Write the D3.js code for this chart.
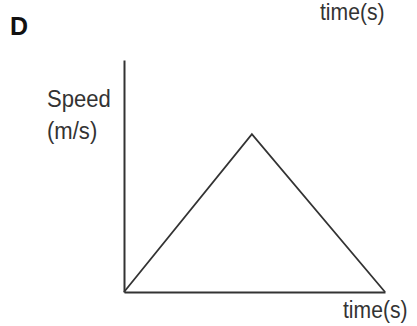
<!DOCTYPE html>
<html><head><meta charset="utf-8">
<script src="https://cdn.jsdelivr.net/npm/d3@7"></script>
<style>body{margin:0;background:#fff}svg{display:block}</style>
</head><body>
<script>
const times = [0, 4.9, 10];
const speeds = [0, 6.8, 0];
const panelLabel = "D";
const yLabelLines = ["Speed", "(m/s)"];
const xLabel = "time(s)";

const W = 417, H = 326;
const m = {left: 124, right: 32, top: 60, bottom: 34};
const svg = d3.select("body").append("svg").attr("width", W).attr("height", H);
const x = d3.scaleLinear().domain([0, 10]).range([m.left, W - m.right]);
const y = d3.scaleLinear().domain([0, 10]).range([H - m.bottom, m.top]);

svg.append("g").attr("transform", `translate(0,${H - m.bottom})`)
  .call(d3.axisBottom(x).ticks(0).tickSizeOuter(0));
svg.append("g").attr("transform", `translate(${m.left},0)`)
  .call(d3.axisLeft(y).ticks(0).tickSizeOuter(0));
svg.selectAll(".domain").attr("stroke", "#333").attr("stroke-width", 2);

svg.append("path").datum(times.map((t, i) => [t, speeds[i]]))
  .attr("fill", "none").attr("stroke", "#333").attr("stroke-width", 1.8)
  .attr("d", d3.line().x(d => x(d[0])).y(d => y(d[1])));

const font = "'Liberation Sans', Arial, sans-serif";
function label(txt, px, py, size, sx, opts = {}) {
  return svg.append("text")
    .attr("transform", `translate(${px},${py}) scale(${sx},1)`)
    .text(txt).attr("font-family", font).attr("font-size", size)
    .attr("font-weight", opts.bold ? "bold" : "normal")
    .attr("fill", opts.fill || "#333");
}
label(panelLabel, 10, 35, 25, 1, {bold: true, fill: "#111"});
label(xLabel, 320, 20, 23, 0.92);
label(yLabelLines[0], 47, 107, 24, 0.92);
label(yLabelLines[1], 47, 139, 24, 0.92);
label(xLabel, 343, 318, 24, 0.88);
</script>
</body></html>
